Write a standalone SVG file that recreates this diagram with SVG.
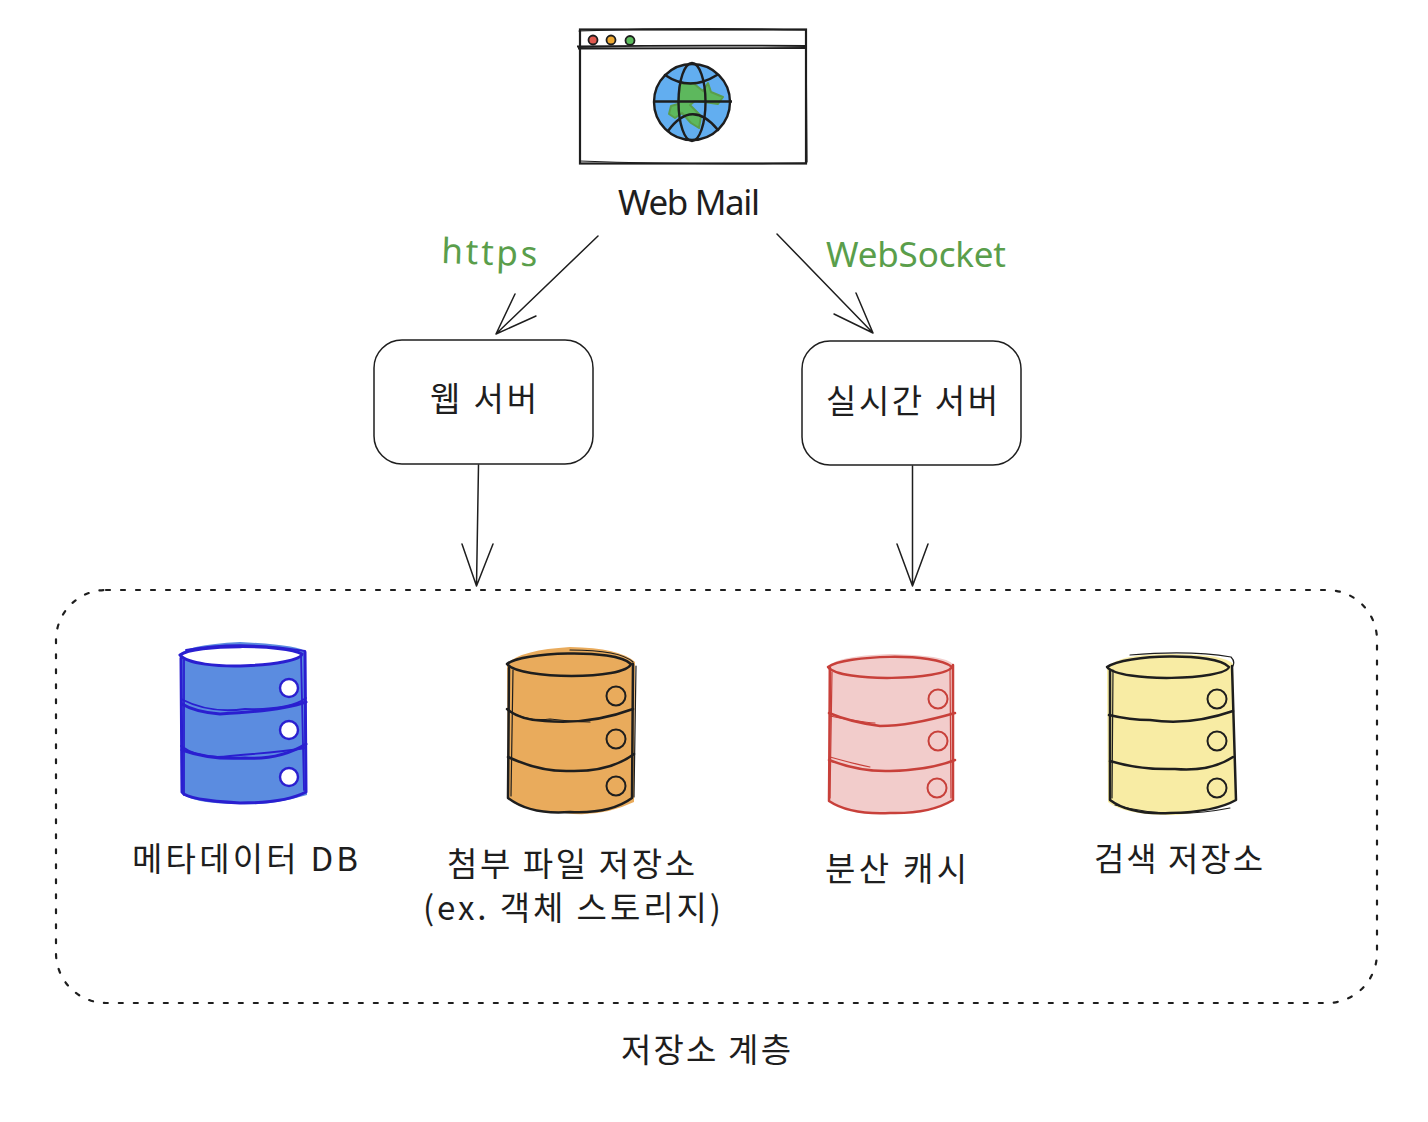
<svg xmlns="http://www.w3.org/2000/svg" width="1428" height="1122" viewBox="0 0 1428 1122">
<style>
.ko{font-family:"Noto Sans CJK KR","Noto Sans",sans-serif;font-size:33px;fill:#1e1e1e;font-weight:400}
.la{font-family:"Noto Sans","Noto Sans CJK KR",sans-serif;font-size:35px;fill:#1e1e1e}
.gr{fill:#5a9e4b}
.line{fill:none;stroke:#1e1e1e;stroke-width:1.500;stroke-linecap:round;stroke-linejoin:round}
.box{fill:#fff;stroke:#1e1e1e;stroke-width:1.500}
.s2{fill:none;stroke:#1e1e1e;stroke-width:2.500;stroke-linecap:round;stroke-linejoin:round}
.s1{fill:none;stroke:#1e1e1e;stroke-width:1.200;stroke-linecap:round}
.blue .s2,.blue .s1{stroke:#2a1fd0}
.red .s2,.red .s1{stroke:#c8403a}
.blue .s2{stroke-width:3}
.blue .s1{stroke-width:1.800}
</style>

<g id="connectors">
<path class="line" d="M598 236L496 334M515 294L496 334L536 316"/>
<path class="line" d="M777 234L873 333M856 293L873 333L834 314"/>
<path class="line" d="M478.500 465L476.500 586M462 544L476.500 586L493 544"/>
<path class="line" d="M912.500 466L912.500 586M897 544L912.500 586L928 544"/>
</g>

<g id="storage-layer">
<rect x="56" y="590" width="1321" height="413" rx="50" fill="none" stroke="#1e1e1e" stroke-width="2.200" stroke-dasharray="4 11" stroke-linecap="round"/>
<text class="ko" x="706" y="1062" text-anchor="middle" textLength="170">저장소 계층</text>
</g>

<g id="web-mail">
<rect x="580" y="29.500" width="226" height="134" fill="#fff" stroke="#1e1e1e" stroke-width="2.200"/>
<path class="s1" d="M579 31Q690 27 806 30M806 30L807 162M580 161Q690 165 806 163"/>
<path d="M577 46.500Q690 45 806 46M578 48.500L807 48" fill="none" stroke="#1e1e1e" stroke-width="1.800"/>
<circle cx="593" cy="40" r="4.500" fill="#e05a50" stroke="#1e1e1e" stroke-width="1.800"/>
<circle cx="611" cy="40" r="4.500" fill="#eeaa33" stroke="#1e1e1e" stroke-width="1.800"/>
<circle cx="630" cy="40.500" r="4.500" fill="#5cbb5c" stroke="#1e1e1e" stroke-width="1.800"/>
<circle cx="692" cy="102" r="38" fill="#62aef0" stroke="#1e1e1e" stroke-width="2.400"/>
<path d="M680 84L693 83L703 91L708 83L711 92L723 97L718 104L704 102L695 101L690 105L701 116L699 128L691 123L682 113L675 118L669 114L671 106L678 104L679 96Z" fill="#5db85d" stroke="#5a9e4b" stroke-width="2" stroke-linejoin="round"/>
<ellipse cx="692" cy="102" rx="13.500" ry="39" fill="none" stroke="#1e1e1e" stroke-width="2.400"/>
<path d="M655 101.500L732 101.500" stroke="#1e1e1e" stroke-width="2.600"/>
<path class="s2" d="M665 75Q690 92 717 75M668 131Q692 98 718 130"/>
<text class="la" x="689" y="215" text-anchor="middle" textLength="142">Web Mail</text>
</g>

<g id="https-label"><text class="la gr" x="441" y="263" textLength="96" transform="rotate(2 441 263)">https</text></g>
<g id="websocket-label"><text class="la gr" x="826" y="267" textLength="180">WebSocket</text></g>

<g id="web-server">
<rect class="box" x="374" y="340" width="219" height="124" rx="28"/>
<text class="ko" x="483.500" y="411" text-anchor="middle" textLength="107">웹 서버</text>
</g>
<g id="realtime-server">
<rect class="box" x="802" y="341" width="219" height="124" rx="28"/>
<text class="ko" x="912" y="413" text-anchor="middle" textLength="172">실시간 서버</text>
</g>

<g id="metadata-db" class="blue">
<path d="M180 655Q184 645 240 642Q300 645 306 652L307 795Q270 806 240 804Q190 804 181 792Z" fill="#5b8ce0"/>
<path d="M180 655C195 644 285 644 302 654C300 666 195 673 180 655Z" fill="#fff"/>
<path class="s2" d="M180 655C195 644 285 644 302 654C300 666 195 673 180 655Z"/>
<path class="s2" d="M181 658L182 792Q186 800 240 803Q285 803 306 792L305 652"/>
<path class="s1" d="M184 660L184 795M301 655L304 790M186 650Q240 640 305 651"/>
<path class="s2" d="M182 704Q195 712 220 714Q280 711 306 702"/>
<path class="s1" d="M181 699Q210 714 245 709Q290 710 306 698"/>
<path class="s2" d="M182 750Q210 760 245 758Q280 760 306 744"/>
<path class="s1" d="M181 746Q200 760 230 756Q280 752 306 748"/>
<g fill="#fff" stroke="#2a1fd0" stroke-width="2.400"><circle cx="289" cy="688" r="9"/><circle cx="289" cy="730" r="9"/><circle cx="289" cy="777" r="9"/></g>
<text class="ko" x="245" y="871" text-anchor="middle" textLength="226">메타데이터 DB</text>
</g>

<g id="attachment-store">
<path d="M507 664Q520 650 570 647Q620 648 635 662L634 802Q600 818 565 813Q520 812 508 798Z" fill="#e9ab5c"/>
<path class="s2" d="M507 664C520 652 615 648 631 664C625 680 520 680 507 664Z"/>
<path class="s2" d="M509 668L508 798Q530 815 570 812Q610 814 632 798L633 664"/>
<path class="s1" d="M513 670L511 796M636 666L634 797M570 650Q620 650 633 662"/>
<path class="s2" d="M507 709Q520 720 545 721Q590 725 633 709M508 757Q540 772 570 771Q610 772 634 754"/>
<path class="s1" d="M510 712Q530 722 550 719Q575 722 590 722"/>
<g fill="none" stroke="#1e1e1e" stroke-width="2"><circle cx="616" cy="696" r="9.500"/><circle cx="616" cy="739" r="9.500"/><circle cx="616" cy="786" r="9.500"/></g>
<text class="ko" x="571" y="876" text-anchor="middle" textLength="248">첨부 파일 저장소</text>
<text class="ko" x="572" y="920" text-anchor="middle" textLength="298">(ex. 객체 스토리지)</text>
</g>

<g id="distributed-cache" class="red">
<path d="M828 667Q835 656 890 654Q945 655 953 664L954 800Q920 815 890 813Q850 815 829 800Z" fill="#f2cccb"/>
<path class="s2" d="M828 667C845 655 935 652 952 667C945 680 840 683 828 667Z"/>
<path class="s2" d="M830 668L829 801Q850 815 890 813Q930 814 953 800L953 665"/>
<path class="s1" d="M832 672L830 798M950 668L951 798"/>
<path class="s2" d="M829 713Q850 722 880 726Q910 726 955 713M829 760Q860 772 890 771Q930 770 955 760"/>
<path class="s1" d="M830 716Q860 722 875 723M830 757Q855 764 870 767"/>
<g fill="none" stroke="#c8403a" stroke-width="2"><circle cx="938" cy="699" r="9.500"/><circle cx="938" cy="741" r="9.500"/><circle cx="937" cy="788" r="9.500"/></g>
<text class="ko" x="896" y="881" text-anchor="middle" textLength="142">분산 캐시</text>
</g>

<g id="search-store">
<path d="M1107 667Q1120 654 1170 654Q1225 654 1233 664L1236 800Q1200 815 1170 815Q1125 815 1108 802Z" fill="#f8eca4"/>
<path class="s2" d="M1107 667C1125 654 1215 652 1229 667C1225 680 1120 683 1107 667Z"/>
<path class="s2" d="M1110 670L1110 800Q1130 815 1170 813Q1215 812 1236 800L1232 666"/>
<path class="s1" d="M1113 670L1112 798M1130 655Q1190 650 1231 657Q1236 662 1232 668M1115 805Q1170 820 1230 808"/>
<path class="s2" d="M1109 715Q1130 720 1150 720Q1190 726 1233 711M1110 761Q1140 770 1175 769Q1210 772 1233 757"/>
<g fill="none" stroke="#1e1e1e" stroke-width="2"><circle cx="1217" cy="699" r="9.500"/><circle cx="1217" cy="741" r="9.500"/><circle cx="1217" cy="788" r="9.500"/></g>
<text class="ko" x="1178.500" y="871" text-anchor="middle" textLength="169">검색 저장소</text>
</g>
</svg>
